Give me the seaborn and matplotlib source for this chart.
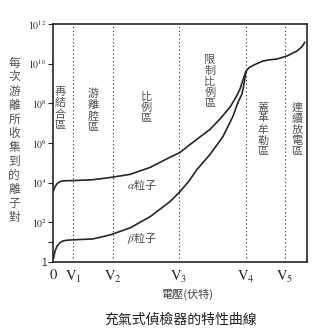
import numpy as np
import pandas as pd
import matplotlib
matplotlib.use("Agg")
import matplotlib.pyplot as plt
import seaborn as sns

# ---- data ----
v_positions = [0, 1.0, 3.0, 6.3, 9.65, 11.6]
v_labels = ["0", "$\\mathrm{V}_1$", "$\\mathrm{V}_2$", "$\\mathrm{V}_3$", "$\\mathrm{V}_4$", "$\\mathrm{V}_5$"]

alpha_x = [0, 0.05, 0.1, 0.2, 0.3, 0.45, 0.7, 1.0, 2.0, 2.85, 3.85, 4.85, 5.85, 6.35, 6.85,
           7.35, 7.85, 8.35, 8.85, 9.15, 9.35, 9.5, 9.65, 9.8, 10.0, 10.25, 10.5, 10.85,
           11.2, 11.7, 12.2, 12.45, 12.6]
alpha_y = [3.5e3, 4.8e3, 6.3e3, 8.9e3, 1.05e4, 1.2e4, 1.25e4, 1.26e4, 1.4e4, 1.8e4, 2.6e4,
           5.8e4, 1.9e5, 3.3e5, 8.3e5, 2.0e6, 4.8e6, 1.6e7, 6.3e7, 2.0e8, 5.1e8, 1.5e9,
           4.0e9, 6.2e9, 8.0e9, 1.05e10, 1.35e10, 1.55e10, 1.7e10, 2.4e10, 4.3e10, 7.0e10,
           1.2e11]

beta_x = [0, 0.05, 0.1, 0.2, 0.35, 0.5, 0.7, 1.0, 2.0, 2.85, 3.85, 4.85, 5.85, 6.35, 6.8,
          7.2, 7.85, 8.5, 9.0, 9.25, 9.45, 9.55, 9.65]
beta_y = [1.3, 2.2, 3.6, 6.3, 9.5, 11.5, 12.5, 13, 14.5, 23, 52, 190, 1.1e3, 3.5e3, 1.2e4,
          4.6e4, 2.6e5, 2.1e6, 2.2e7, 1.1e8, 2.9e8, 9.0e8, 4.0e9]

y_ticks = [1, 1e2, 1e4, 1e6, 1e8, 1e10, 1e12]
y_tick_labels = ["1", "$10^2$", "$10^4$", "$10^6$", "$10^8$", "$10^{10}$", "$10^{12}$"]

region_labels = ["再結合區", "游離腔區", "比例區", "限制比例區", "蓋革牟勒區", "連續放電區"]
region_x = [0.35, 2.0, 4.65, 7.85, 10.5, 12.2]
region_top = [6.5e8, 5.5e8, 3.6e8, 2.8e10, 1.1e8, 1.1e8]

series_labels = ["$\\alpha$粒子", "$\\beta$粒子"]
series_label_pos = [(3.7, 8e3), (3.7, 16)]

y_title = "每次游離所收集到的離子對"
x_title = "電壓(伏特)"
fig_title = "充氣式偵檢器的特性曲線"

# ---- build table ----
df = pd.concat([
    pd.DataFrame({"voltage": alpha_x, "pairs": alpha_y, "series": "alpha"}),
    pd.DataFrame({"voltage": beta_x, "pairs": beta_y, "series": "beta"}),
], ignore_index=True)

sns.set_style("white")
plt.rcParams["font.family"] = ["Noto Sans CJK TC", "DejaVu Sans"]
plt.rcParams["mathtext.fontset"] = "stix"

fig = plt.figure(figsize=(3.2, 3.32), dpi=100)
ax = fig.add_axes([0.166, 0.211, 0.793, 0.717])

ink = "#262626"
sns.lineplot(data=df, x="voltage", y="pairs", hue="series", palette=[ink, ink],
             estimator=None, sort=False, legend=False, linewidth=1.2, ax=ax)

ax.set_yscale("log")
ax.set_xlim(0, 12.7)
ax.set_ylim(1, 1e12)

for v in v_positions[1:]:
    ax.axvline(v, color="#444444", linestyle=(0, (1.2, 2.2)), linewidth=0.8, zorder=0)

ax.set_xticks(v_positions)
ax.set_xticklabels(v_labels, fontsize=10.5, family="STIXGeneral")
ax.tick_params(axis="x", length=0, pad=5, colors=ink)

ax.set_yticks(y_ticks)
ax.set_yticklabels(y_tick_labels, fontsize=7)
ax.set_yticks([10], minor=True)
ax.yaxis.set_minor_formatter(matplotlib.ticker.NullFormatter())
ax.tick_params(axis="y", which="both", direction="out", length=3.5, width=0.8,
               pad=1, colors=ink, left=True)

for s in ax.spines.values():
    s.set_color(ink)
    s.set_linewidth(1.2)

ax.set_xlabel("")
ax.set_ylabel("")

for lab, x, y in zip(region_labels, region_x, region_top):
    ax.text(x, y, "\n".join(lab), fontsize=8, color="#555555", ha="center", va="top",
            linespacing=1.12)

for lab, (x, y) in zip(series_labels, series_label_pos):
    ax.text(x, y, lab, fontsize=8, color="#444444", ha="left", va="center")

fig.text(0.044, 0.577, "\n".join(y_title), fontsize=8.5, color="#555555",
         ha="center", va="center", linespacing=1.1)
fig.text(0.585, 0.113, x_title, fontsize=8, color="#444444", ha="center", va="center")
fig.text(0.563, 0.036, fig_title, fontsize=10, color="#222222", ha="center", va="center")

fig.savefig("out.png", dpi=100)
